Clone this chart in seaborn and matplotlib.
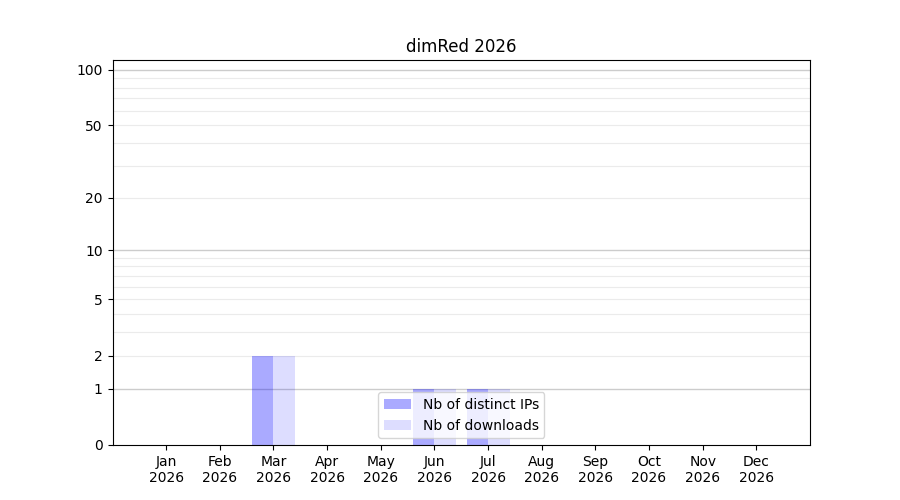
import numpy as np
import pandas as pd
import matplotlib
matplotlib.use('Agg')
import matplotlib.pyplot as plt
import seaborn as sns

# Monthly stats for the package
months = ['Jan', 'Feb', 'Mar', 'Apr', 'May', 'Jun',
          'Jul', 'Aug', 'Sep', 'Oct', 'Nov', 'Dec']
year = '2026'
distinct_ips = [0, 0, 2, 0, 0, 1, 1, 0, 0, 0, 0, 0]
downloads = [0, 0, 2, 0, 0, 1, 1, 0, 0, 0, 0, 0]
series_names = ['Nb of distinct IPs', 'Nb of downloads']

y_ticks = [0, 1, 2, 5, 10, 20, 50, 100]
major_grid = [1, 10, 100]
minor_grid = [2, 3, 4, 5, 6, 7, 8, 9, 20, 30, 40, 50, 60, 70, 80, 90]

labels = [f'{m}\n{year}' for m in months]
df = pd.DataFrame({
    'month': labels * 2,
    'value': distinct_ips + downloads,
    'series': [series_names[0]] * len(months) + [series_names[1]] * len(months),
})

fig, ax = plt.subplots(figsize=(9, 5), dpi=100)

sns.barplot(data=df, x='month', y='value', hue='series', ax=ax,
            palette=['#0000ff', '#0000ff'], saturation=1, width=0.8,
            errorbar=None, linewidth=0, legend=False)

# translucent blue bars, so the grid shows through
for cont, a in zip(ax.containers, [0.333, 0.133]):
    for p in cont:
        p.set_facecolor((0, 0, 1, a))
        p.set_zorder(2.5)

# log(1 + y) scale so zero can be shown
ax.set_yscale('function', functions=(lambda y: np.log10(1 + np.clip(y, 0, None)),
                                     lambda y: 10 ** y - 1))
ax.set_ylim(0, 113)
ax.set_xlim(-1, 12)
ax.set_yticks(y_ticks)
ax.set_yticklabels([str(t) for t in y_ticks])
ax.yaxis.set_minor_locator(matplotlib.ticker.NullLocator())

for g in minor_grid:
    ax.axhline(g, color='#ebebeb', lw=0.8, zorder=1)
for g in major_grid:
    ax.axhline(g, color='#cccccc', lw=1.0, zorder=1)

ax.set_xlabel('')
ax.set_ylabel('')
ax.set_title(f'dimRed {year}')
ax.legend(ax.containers, series_names, loc='lower center')

plt.savefig('out.png', dpi=100)
